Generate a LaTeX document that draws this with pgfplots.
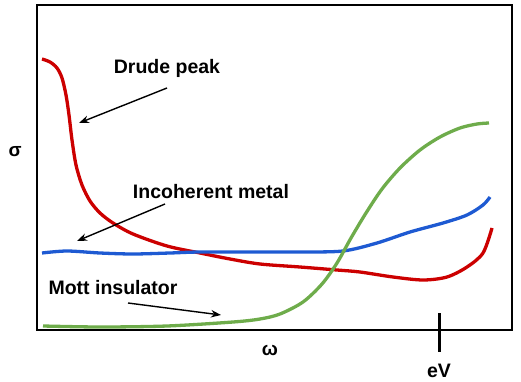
\documentclass[border=0pt]{standalone}
\usepackage{fontspec}
\setmainfont{Liberation Sans}
\usepackage{pgfplots}
\pgfplotsset{compat=1.18}
\usetikzlibrary{arrows.meta}
\definecolor{drude}{RGB}{204,0,0}
\definecolor{incoh}{RGB}{30,90,210}
\definecolor{mott}{RGB}{110,172,75}
\tikzset{lbl/.style={font=\fontsize{19.5}{22}\selectfont\bfseries}}
\begin{document}
\begin{tikzpicture}
\begin{axis}[
    scale only axis,
    width=475pt, height=325pt,
    xmin=37, xmax=512, ymin=5, ymax=330,
    y dir=reverse,
    xtick=\empty, ytick=\empty,
    axis line style={line width=2.4pt},
    clip=false,
    every axis plot/.append style={line width=3.3pt, smooth, tension=0.5, no marks},
]
\path (axis cs:0,0) rectangle (axis cs:521,382);
% Drude peak
\addplot[drude] coordinates {
    (42,59) (50,62) (57,68) (62,78) (66,95) (69,115) (72,140) (76,165)
    (82,185) (90,201) (100,213) (113,223) (133,234) (167,246) (200,253)
    (230,259) (260,264) (300,267) (337,270) (360,272) (393,277) (423,280)
    (447,277) (467,267) (483,253) (492,228)
};
% incoherent metal
\addplot[incoh] coordinates {
    (42,253) (67,251) (100,253) (133,254) (170,253) (200,252) (260,252)
    (300,252) (343,251) (377,243) (410,232) (443,223) (467,215) (483,205)
    (490,197)
};
% Mott insulator
\addplot[mott] coordinates {
    (43,326) (100,327) (167,326) (233,322) (260,319) (280,314) (303,302)
    (322,284) (337,263) (351,238) (366,213) (382,189) (400,168) (420,150)
    (440,137) (460,128) (477,124) (489,123)
};
\node[lbl] at (axis cs:167,68) {Drude peak};
\node[lbl] at (axis cs:211,192) {Incoherent metal};
\node[lbl] at (axis cs:113,288) {Mott insulator};
\draw[line width=1.4pt, -{Stealth[length=10pt,width=7.5pt]}] (axis cs:167,88) -- (axis cs:79,123);
\draw[line width=1.4pt, -{Stealth[length=10pt,width=7.5pt]}] (axis cs:165,204) -- (axis cs:77,241);
\draw[line width=1.4pt, -{Stealth[length=10pt,width=7.5pt]}] (axis cs:128,303) -- (axis cs:221,315);
\node[font=\fontsize{19}{22}\selectfont\bfseries] at (axis cs:15,152) {σ};
\node[font=\fontsize{19}{22}\selectfont\bfseries] at (axis cs:270,350) {ω};
\draw[line width=3pt] (axis cs:439,313) -- (axis cs:439,352);
\node[lbl] at (axis cs:439,371) {eV};
\end{axis}
\end{tikzpicture}
\end{document}
